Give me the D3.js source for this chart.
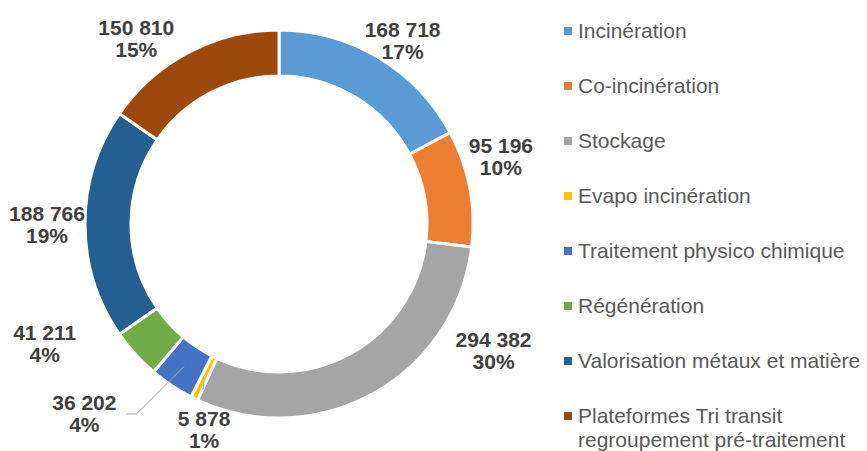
<!DOCTYPE html>
<html>
<head>
<meta charset="utf-8">
<script src="https://cdn.jsdelivr.net/npm/d3@7"></script>
<style>
  html, body { margin: 0; padding: 0; background: #fff; }
  svg { display: block; font-family: "Liberation Sans", Arial, sans-serif; }
</style>
</head>
<body>
<svg></svg>
<script>
// data
var categories = ["Incinération", "Co-incinération", "Stockage", "Evapo incinération",
  "Traitement physico chimique", "Régénération", "Valorisation métaux et matière",
  "Plateformes Tri transit regroupement pré-traitement"]
var tonnages = [168718, 95196, 294382, 5878, 36202, 41211, 188766, 150810]
var colors = ["#5B9BD5", "#ED7D31", "#A5A5A5", "#FFC000", "#4472C4", "#70AD47", "#255E91", "#9E480E"]

// label placement: radius / angle (deg, clockwise from top) from the centre
var labelRadius = [221, 232, 249, 219, 272, 263, 232, 234]
var labelAngle = [34, 73, 120.5, 200, 225.7, 243, 269.8, 322.4]
// slices that get a leader line
var leaders = [3, 4]

var width = 867
var height = 451
var cx = 279, cy = 224
var outerR = 194, innerR = 148

var svg = d3.select("svg")
  .attr("width", width)
  .attr("height", height)

var g = svg.append("g")
  .attr("transform", "translate(" + cx + "," + cy + ")")

var total = d3.sum(tonnages)
var fr = d3.formatLocale({ decimal: ",", thousands: "\u00a0", grouping: [3], currency: ["", "€"] })
var fmt = fr.format(",d")

var pie = d3.pie().sort(null).value(function (d) { return d })
var arcs = pie(tonnages)

var arc = d3.arc().innerRadius(innerR).outerRadius(outerR)
var midArc = d3.arc().innerRadius((innerR + outerR) / 2).outerRadius((innerR + outerR) / 2)

g.selectAll("path.slice")
  .data(arcs)
  .enter().append("path")
  .attr("class", "slice")
  .attr("d", arc)
  .attr("fill", function (d, i) { return colors[i] })
  .attr("stroke", "#fff")
  .attr("stroke-width", 3)
  .attr("stroke-linejoin", "miter")

function labelPos(i) {
  var a = labelAngle[i] * Math.PI / 180
  return [labelRadius[i] * Math.sin(a), -labelRadius[i] * Math.cos(a)]
}

// leader lines
leaders.forEach(function (i) {
  var c = midArc.centroid(arcs[i])
  var p = labelPos(i)
  var pts
  if (i === 3) {
    pts = [c, [p[0] - 1, p[1] - 40]]
  } else {
    pts = [c, [p[0] + 52, p[1]], [p[0] + 42, p[1]]]
  }
  g.append("polyline")
    .attr("points", pts.map(function (q) { return q.join(",") }).join(" "))
    .attr("fill", "none")
    .attr("stroke", "#A6A6A6")
    .attr("stroke-width", 1)
})

// data labels
var labels = g.selectAll("text.lbl")
  .data(arcs)
  .enter().append("text")
  .attr("class", "lbl")
  .attr("text-anchor", "middle")
  .attr("font-size", "21px")
  .attr("font-weight", "bold")
  .attr("fill", "#404040")
  .attr("transform", function (d, i) { return "translate(" + labelPos(i) + ")" })

labels.append("tspan")
  .attr("x", 0).attr("y", -3.5)
  .text(function (d) { return fmt(d.data) })
labels.append("tspan")
  .attr("x", 0).attr("y", 18.5)
  .text(function (d) { return Math.round(d.data / total * 100) + "%" })

// legend
var legX = 564, legTop = 38, legStep = 55, maxW = 287
var legend = svg.append("g")

categories.forEach(function (name, i) {
  var y = legTop + i * legStep
  legend.append("rect")
    .attr("x", legX).attr("y", y - 11)
    .attr("width", 8).attr("height", 8)
    .attr("fill", colors[i])
  var t = legend.append("text")
    .attr("x", legX + 14).attr("y", y)
    .attr("font-size", "21px")
    .attr("fill", "#595959")
  // simple word wrap
  var words = name.split(" "), line = [], lineNo = 0
  var ts = t.append("tspan").attr("x", legX + 14).attr("y", y)
  words.forEach(function (w) {
    line.push(w)
    ts.text(line.join(" "))
    if (ts.node().getComputedTextLength() > maxW && line.length > 1 && i === categories.length - 1) {
      line.pop()
      ts.text(line.join(" "))
      line = [w]
      lineNo++
      ts = t.append("tspan").attr("x", legX + 14).attr("y", y + lineNo * 24).text(w)
    }
  })
})
</script>
</body>
</html>
